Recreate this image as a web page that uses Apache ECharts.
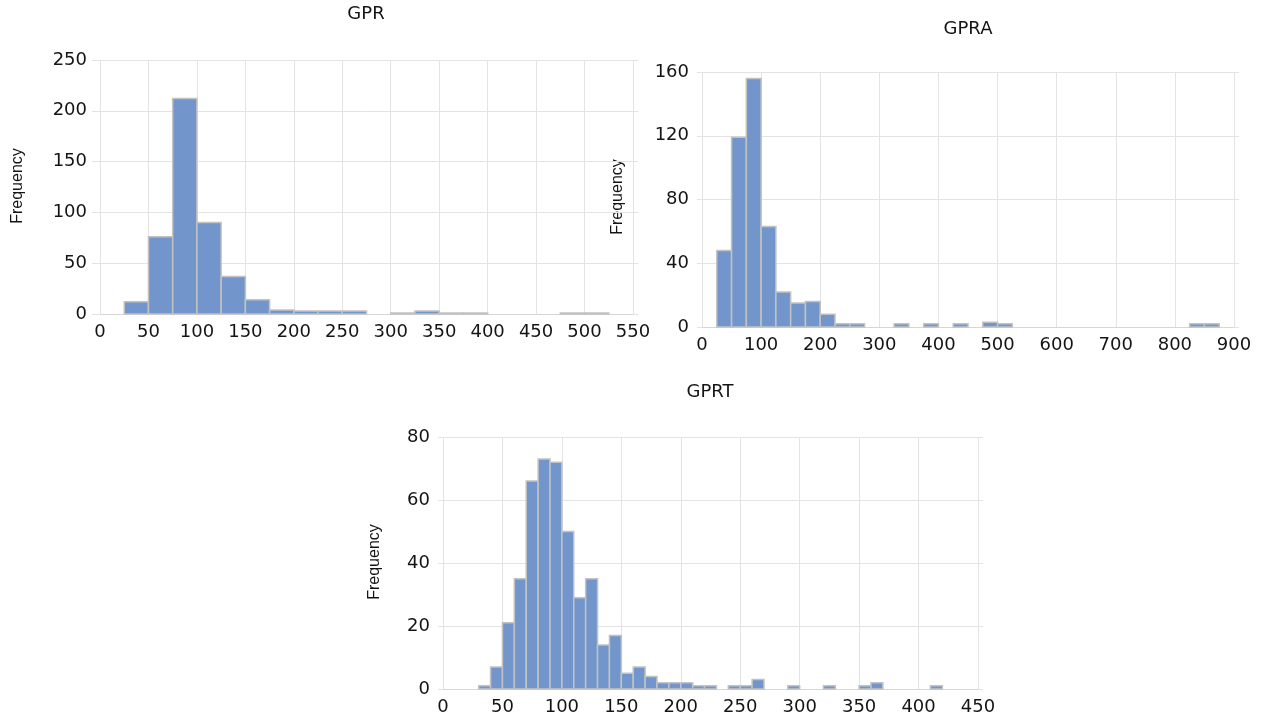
<!DOCTYPE html>
<html>
<head>
<meta charset="utf-8">
<script src="https://cdn.jsdelivr.net/npm/echarts@6/dist/echarts.min.js"></script>
<style>
  html, body { margin: 0; padding: 0; background: #fff; }
  #chart { width: 1263px; height: 723px; }
</style>
</head>
<body>
<div id="chart"></div>
<script>
// histogram data: first bin edge, bin width, counts per bin
const gprStart = 25
const gprWidth = 25
const gprCounts = [12, 76, 212, 90, 37, 14, 4, 3, 3, 3, 0, 1, 3, 1, 1, 0, 0, 0, 1, 1]

const gpraStart = 25
const gpraWidth = 25
const gpraCounts = [48, 119, 156, 63, 22, 15, 16, 8, 2, 2, 0, 0, 2, 0, 2, 0, 2, 0, 3, 2,
  0, 0, 0, 0, 0, 0, 0, 0, 0, 0, 0, 0, 2, 2]

const gprtStart = 30
const gprtWidth = 10
const gprtCounts = [1, 7, 21, 35, 66, 73, 72, 50, 29, 35, 14, 17, 5, 7, 4, 2, 2, 2, 1, 1,
  0, 1, 1, 3, 0, 0, 1, 0, 0, 1, 0, 0, 1, 2, 0, 0, 0, 0, 1]

// axis ranges / ticks
const gprX = [0, 550, 50], gprY = [0, 250, 50]
const gpraX = [0, 900, 100], gpraY = [0, 160, 40]
const gprtX = [0, 450, 50], gprtY = [0, 80, 20]

const titles = ['GPR', 'GPRA', 'GPRT']
const yName = 'Frequency'

const FILL = '#7296cc'
const EDGE = '#c2c2c2'
const GRID = '#e3e3e3'
const INK = '#141414'
const FONT = 'DejaVu Sans'

function toBins(start, width, counts) {
  return counts.map((c, i) => [start + i * width, c])
}

function histItem(width) {
  return function (params, api) {
    const x0 = api.value(0)
    const n = api.value(1)
    if (!n) return null
    const p0 = api.coord([x0, n])
    const p1 = api.coord([x0 + width, 0])
    return {
      type: 'rect',
      shape: { x: p0[0], y: p0[1], width: p1[0] - p0[0], height: p1[1] - p0[1] },
      style: { fill: FILL, stroke: EDGE, lineWidth: 1.5 }
    }
  }
}

function xAxis(idx, r) {
  return {
    type: 'value', gridIndex: idx, min: r[0], max: r[1], interval: r[2],
    axisLine: { show: true, lineStyle: { color: '#d6d6d6', width: 1 } },
    axisTick: { show: false },
    splitLine: { show: true, lineStyle: { color: GRID, width: 1 } },
    axisLabel: { color: INK, fontFamily: FONT, fontSize: 18, margin: 9 }
  }
}

function yAxes(idx, r, leftTick) {
  return [
    {
      type: 'value', gridIndex: idx, min: r[0], max: r[1], interval: r[2],
      axisLine: { show: false },
      axisTick: { show: true, length: leftTick, lineStyle: { color: GRID } },
      splitLine: { show: true, lineStyle: { color: GRID, width: 1 } },
      axisLabel: { color: INK, fontFamily: FONT, fontSize: 18, margin: 13 }
    },
    {
      // only to let the gridlines run a few px past the plot on the right
      type: 'value', gridIndex: idx, position: 'right', min: r[0], max: r[1], interval: r[2],
      axisLine: { show: false },
      axisTick: { show: true, length: 5, lineStyle: { color: GRID } },
      splitLine: { show: false },
      axisLabel: { show: false }
    }
  ]
}

function label(text, x, y, size, rotate, family) {
  return {
    type: 'text', x: x, y: y, rotation: rotate ? Math.PI / 2 : 0,
    style: {
      text: text, fill: INK, font: size + 'px "' + family + '"',
      align: 'center', verticalAlign: 'middle'
    }
  }
}

const chart = echarts.init(document.getElementById('chart'), null, { renderer: 'canvas' })

chart.setOption({
  animation: false,
  backgroundColor: '#fff',
  grid: [
    { left: 100, top: 60, width: 533, height: 254 },
    { left: 702, top: 72, width: 532, height: 255 },
    { left: 443, top: 437, width: 535, height: 252 }
  ],
  xAxis: [xAxis(0, gprX), xAxis(1, gpraX), xAxis(2, gprtX)],
  yAxis: [].concat(yAxes(0, gprY, 8), yAxes(1, gpraY, 5), yAxes(2, gprtY, 5)),
  graphic: [
    label(titles[0], 366, 14, 18, false, FONT),
    label(titles[1], 968, 29, 18, false, FONT),
    label(titles[2], 710, 392, 18, false, FONT),
    label(yName, 18, 186, 16, true, 'Liberation Sans'),
    label(yName, 618, 197, 16, true, 'Liberation Sans'),
    label(yName, 375, 562, 16, true, 'Liberation Sans')
  ],
  series: [
    { type: 'custom', name: titles[0], xAxisIndex: 0, yAxisIndex: 0,
      renderItem: histItem(gprWidth), encode: { x: 0, y: 1 },
      data: toBins(gprStart, gprWidth, gprCounts) },
    { type: 'custom', name: titles[1], xAxisIndex: 1, yAxisIndex: 2,
      renderItem: histItem(gpraWidth), encode: { x: 0, y: 1 },
      data: toBins(gpraStart, gpraWidth, gpraCounts) },
    { type: 'custom', name: titles[2], xAxisIndex: 2, yAxisIndex: 4,
      renderItem: histItem(gprtWidth), encode: { x: 0, y: 1 },
      data: toBins(gprtStart, gprtWidth, gprtCounts) }
  ]
})
</script>
</body>
</html>
